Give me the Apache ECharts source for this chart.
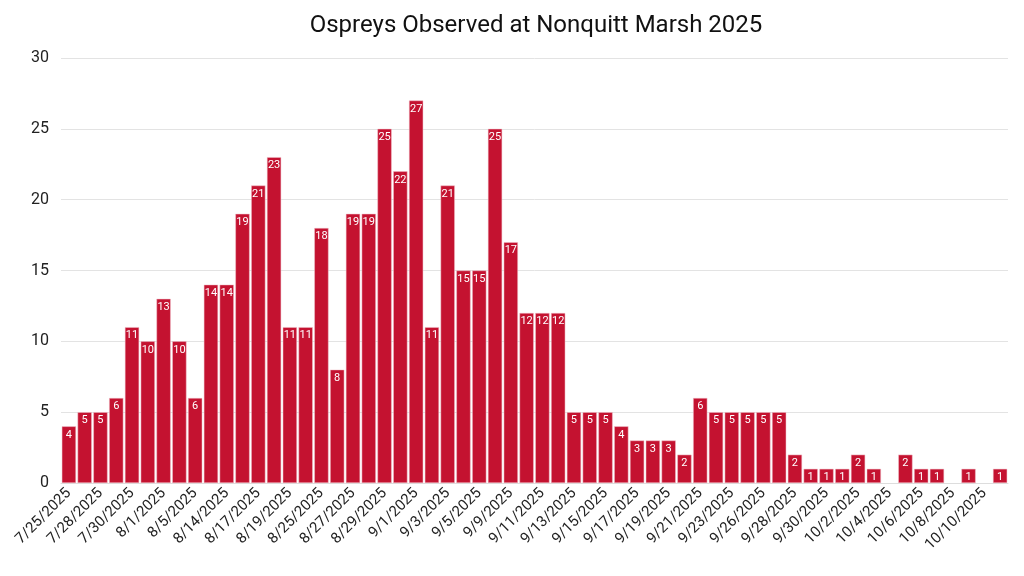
<!DOCTYPE html>
<html>
<head>
<meta charset="utf-8">
<script src="https://cdn.jsdelivr.net/npm/echarts@6/dist/echarts.min.js"></script>
<style>html,body{margin:0;padding:0;background:#fff}#c{width:1024px;height:576px}</style>
</head>
<body>
<div id="c"></div>
<script>
const title = 'Ospreys Observed at Nonquitt Marsh 2025';
const categories = ['7/25/2025','7/26/2025','7/28/2025','7/29/2025','7/30/2025','7/31/2025','8/1/2025','8/4/2025','8/5/2025','8/13/2025',
'8/14/2025','8/16/2025','8/17/2025','8/18/2025','8/19/2025','8/24/2025','8/25/2025','8/26/2025','8/27/2025','8/28/2025',
'8/29/2025','8/31/2025','9/1/2025','9/2/2025','9/3/2025','9/4/2025','9/5/2025','9/8/2025','9/9/2025','9/10/2025',
'9/11/2025','9/12/2025','9/13/2025','9/14/2025','9/15/2025','9/16/2025','9/17/2025','9/18/2025','9/19/2025','9/20/2025',
'9/21/2025','9/22/2025','9/23/2025','9/25/2025','9/26/2025','9/27/2025','9/28/2025','9/29/2025','9/30/2025','10/1/2025',
'10/2/2025','10/3/2025','10/4/2025','10/5/2025','10/6/2025','10/7/2025','10/8/2025','10/9/2025','10/10/2025','10/11/2025'];
const counts = [4,5,5,6,11,10,13,10,6,14,
14,19,21,23,11,11,18,8,19,19,
25,22,27,11,21,15,15,25,17,12,
12,12,5,5,5,4,3,3,3,2,
6,5,5,5,5,5,2,1,1,1,
2,1,null,2,1,1,null,1,null,1];
const yTicks = {min:0, max:30, interval:5};

const chart = echarts.init(document.getElementById('c'));
chart.setOption({
  animation:false,
  backgroundColor:'#ffffff',
  textStyle:{fontFamily:'Roboto'},
  title:{text:title,left:531,textAlign:'center',top:9,textStyle:{fontFamily:'Roboto',fontSize:24,fontWeight:'normal',color:'#111'}},
  grid:{left:61,right:16,top:58,bottom:93},
  xAxis:{type:'category',data:categories,
    axisLine:{show:true,lineStyle:{color:'#dddddd'}},
    axisTick:{show:false},
    axisLabel:{interval:1,rotate:45,fontSize:15,color:'#222',margin:8,fontFamily:'Roboto'}},
  yAxis:{type:'value',min:yTicks.min,max:yTicks.max,interval:yTicks.interval,
    axisLine:{show:false},axisTick:{show:false},
    axisLabel:{fontSize:16,color:'#222',margin:12,fontFamily:'Roboto'},
    splitLine:{lineStyle:{color:'#e3e3e3'}}},
  series:[{type:'bar',data:counts,barCategoryGap:'10%',
    itemStyle:{color:'#c41230',borderColor:'#f0c0ca',borderWidth:0.5},
    label:{show:true,position:'insideTop',distance:3,color:'#fff',fontSize:11,fontFamily:'Roboto'}}]
});
</script>
</body>
</html>
